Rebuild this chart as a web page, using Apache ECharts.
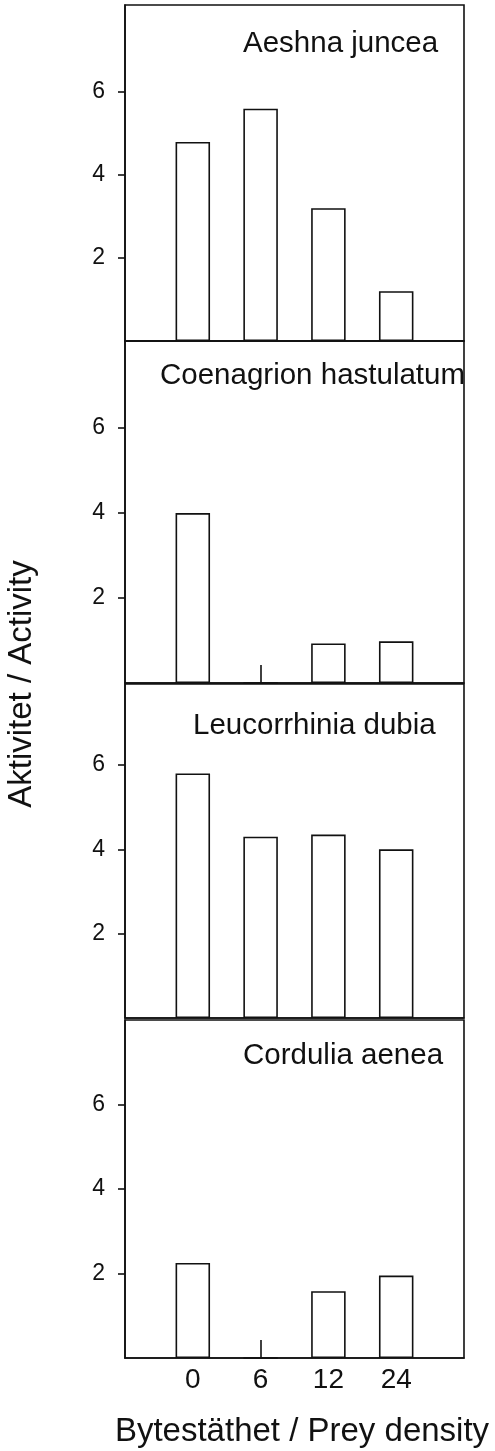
<!DOCTYPE html>
<html>
<head>
<meta charset="utf-8">
<script src="https://cdn.jsdelivr.net/npm/echarts@6/dist/echarts.min.js"></script>
<style>
  html, body { margin: 0; padding: 0; background: #fff; }
  #chart { width: 495px; height: 1451px; }
</style>
</head>
<body>
<div id="chart"></div>
<script>
// ---- data ----
var categories = ['0', '6', '12', '24'];
var speciesNames = ['Aeshna juncea', 'Coenagrion hastulatum', 'Leucorrhinia dubia', 'Cordulia aenea'];
var aeshnaJuncea = [4.8, 5.6, 3.2, 1.2];
var coenagrionHastulatum = [4.0, 0, 0.93, 0.98];
var leucorrhiniaDubia = [5.8, 4.3, 4.35, 4.0];
var corduliaAenea = [2.25, 0, 1.58, 1.95];
var yTickValues = [2, 4, 6];
var xAxisTitle = 'Bytestäthet / Prey density';
var yAxisTitle = 'Aktivitet / Activity';

// ---- layout ----
var seriesValues = [aeshnaJuncea, coenagrionHastulatum, leucorrhiniaDubia, corduliaAenea];
var panelTop = [5, 341, 684, 1020];
var panelHeight = [336, 342, 334, 338];
var panelYMax = [8.1, 8.05, 7.92, 8.0];
var panelTitlePos = [[243, 44], [160, 376], [193, 726], [243, 1056]];
var plotLeft = 125, plotWidth = 339;
var ink = '#111';
var font = '"Liberation Sans", Arial, Helvetica, sans-serif';

var grids = [], xAxes = [], yAxes = [], series = [], graphics = [];
seriesValues.forEach(function (vals, i) {
  var last = i === seriesValues.length - 1;
  var zeroPos = [];
  vals.forEach(function (v, j) { if (v === 0) zeroPos.push(j + 1); });
  grids.push({
    left: plotLeft, width: plotWidth, top: panelTop[i], height: panelHeight[i],
    show: true, borderColor: ink, borderWidth: 1.6, backgroundColor: 'transparent'
  });
  xAxes.push({
    type: 'value', gridIndex: i, min: 0, max: 5,
    splitLine: { show: false },
    axisLine: { show: true, lineStyle: { color: ink, width: 1.6 } },
    axisTick: { show: zeroPos.length > 0, inside: true, length: 18, customValues: zeroPos,
      lineStyle: { color: ink, width: 1.6 } },
    axisLabel: { show: last, customValues: [1, 2, 3, 4], margin: 8,
      fontSize: 28, fontFamily: font, color: ink,
      formatter: function (v) { return categories[Math.round(v) - 1]; } }
  });
  yAxes.push({
    type: 'value', gridIndex: i, min: 0, max: panelYMax[i],
    splitLine: { show: false },
    axisLine: { show: true, lineStyle: { color: ink, width: 1.6 } },
    axisTick: { show: true, inside: false, length: 7, customValues: yTickValues,
      lineStyle: { color: ink, width: 1.6 } },
    axisLabel: { show: true, customValues: yTickValues, margin: 20,
      fontSize: 23, fontFamily: font, color: ink }
  });
  series.push({
    type: 'bar', xAxisIndex: i, yAxisIndex: i,
    data: vals.map(function (v, j) { return [j + 1, v]; }),
    barWidth: 34.5,
    itemStyle: { color: '#fff', borderColor: ink, borderWidth: 1.6 },
    silent: true
  });
  graphics.push({
    type: 'text', x: panelTitlePos[i][0], y: panelTitlePos[i][1],
    style: { text: speciesNames[i], fontSize: 29.5, fontFamily: font, fill: ink,
      align: 'left', verticalAlign: 'middle' }
  });
});

graphics.push({
  type: 'text', x: 302, y: 1432,
  style: { text: xAxisTitle, fontSize: 33, fontFamily: font, fill: ink,
    align: 'center', verticalAlign: 'middle' }
});
graphics.push({
  type: 'text', x: 22, y: 684, rotation: Math.PI / 2,
  style: { text: yAxisTitle, fontSize: 33, fontFamily: font, fill: ink,
    align: 'center', verticalAlign: 'middle' }
});

var chart = echarts.init(document.getElementById('chart'), null, { renderer: 'canvas' });
chart.setOption({
  animation: false,
  backgroundColor: '#fff',
  grid: grids,
  xAxis: xAxes,
  yAxis: yAxes,
  series: series,
  graphic: graphics
});
</script>
</body>
</html>
